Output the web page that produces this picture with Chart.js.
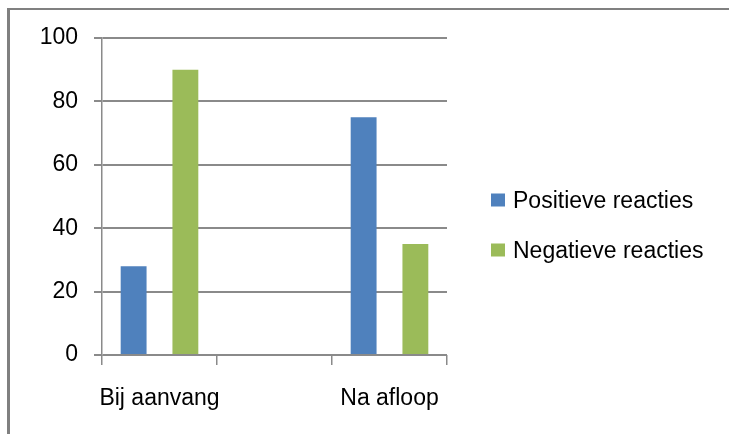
<!DOCTYPE html>
<html>
<head>
<meta charset="utf-8">
<script src="https://cdn.jsdelivr.net/npm/chart.js@4/dist/chart.umd.min.js"></script>
<style>
  html, body { margin: 0; padding: 0; background: #fff; }
  #wrap { position: relative; width: 729px; height: 434px; overflow: hidden; }
  #frame {
    position: absolute; left: 7px; top: 8px; width: 760px; height: 460px;
    border-left: 3px solid #808080; border-top: 2px solid #808080;
    pointer-events: none;
  }
</style>
</head>
<body>
<div id="wrap">
  <canvas id="chart" width="729" height="434"></canvas>
  <div id="frame"></div>
</div>
<script>
// categories (middle one is an empty column)
const categories = ['Bij aanvang', '', 'Na afloop'];
const positief = [28, null, 75];
const negatief = [90, null, 35];
const seriesNames = ['Positieve reacties', 'Negatieve reacties'];
const yTicks = [0, 20, 40, 60, 80, 100];

const FONT = "'Liberation Sans', Arial, sans-serif";
const gridColor = '#8a8a8a';

// simple legend drawn next to the plot, like the Excel one
const sideLegend = {
    id: 'sideLegend',
    afterDraw(chart) {
        const ctx = chart.ctx;
        const rows = [200.5, 250.5];
        ctx.save();
        ctx.font = '23px ' + FONT;
        ctx.textBaseline = 'middle';
        ctx.textAlign = 'left';
        chart.data.datasets.forEach((ds, i) => {
            const cy = rows[i];
            ctx.fillStyle = ds.backgroundColor;
            ctx.fillRect(491, cy - 7, 14, 13);
            ctx.fillStyle = '#000';
            ctx.fillText(ds.label, 513, cy + 1);
        });
        ctx.restore();
    }
};

new Chart(document.getElementById('chart'), {
    type: 'bar',
    data: {
        labels: categories,
        datasets: [{
            label: seriesNames[0],
            data: positief,
            backgroundColor: '#4F81BD',
        }, {
            label: seriesNames[1],
            data: negatief,
            backgroundColor: '#9BBB59',
        }]
    },
    options: {
        responsive: false,
        animation: false,
        categoryPercentage: 0.9,
        barPercentage: 0.5,
        layout: {
            padding: { left: 0, top: 38, right: 282, bottom: 0 }
        },
        plugins: {
            legend: { display: false },
            tooltip: { enabled: false }
        },
        scales: {
            x: {
                offset: true,
                grid: {
                    offset: true,
                    drawOnChartArea: false,
                    drawTicks: true,
                    tickLength: 10,
                    color: gridColor,
                    lineWidth: 1.5,
                },
                border: { display: false },
                ticks: {
                    color: '#000',
                    font: { family: FONT, size: 23 },
                    padding: 20,
                    maxRotation: 0,
                    autoSkip: false,
                },
                afterFit(scale) { scale.height = 79; }
            },
            y: {
                min: 0,
                max: 100,
                afterBuildTicks(scale) {
                    scale.ticks = yTicks.map(v => ({ value: v }));
                },
                grid: {
                    color: gridColor,
                    lineWidth: 2,
                    drawTicks: true,
                    tickLength: 8,
                },
                border: { display: true, color: gridColor, width: 1.5 },
                ticks: {
                    color: '#000',
                    font: { family: FONT, size: 23 },
                    padding: 16,
                },
                afterFit(scale) { scale.width = 102; }
            }
        }
    },
    plugins: [sideLegend]
});
</script>
</body>
</html>
